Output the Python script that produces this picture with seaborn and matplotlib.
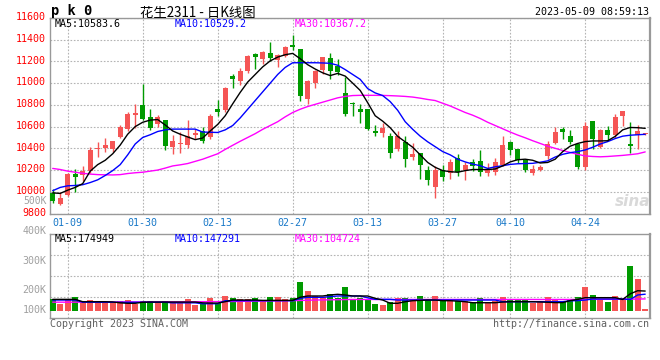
import numpy as np
import pandas as pd
import matplotlib
matplotlib.use("Agg")
import matplotlib.pyplot as plt
import matplotlib.transforms as mtransforms
import seaborn as sns

# ---------------- data ----------------
tick_labels = ["01-09", "01-30", "02-13", "02-27", "03-13", "03-27", "04-10", "04-24"]
tick_index = [2, 12, 22, 32, 42, 52, 61, 71]

opens = [9988, 9888, 9966, 10167, 10152, 10189, 10393, 10406, 10397, 10505,
         10577, 10710, 10800, 10691, 10620, 10660, 10416, 10437, 10428, 10527,
         10555, 10508, 10763, 10753, 11070, 11020, 11110, 11268, 11218, 11277,
         11215, 11252, 11351, 11311, 10856, 11005, 11119, 11228, 11156, 10911,
         10812, 10763, 10763, 10561, 10539, 10514, 10391, 10462, 10323, 10353,
         10205, 10044, 10205, 10174, 10307, 10205, 10272, 10279, 10174, 10180,
         10242, 10459, 10391, 10290, 10174, 10198, 10328, 10453, 10577, 10514,
         10437, 10230, 10648, 10415, 10567, 10521, 10700, 10437, 10524, 10533]
highs = [10025, 9994, 10174, 10214, 10233, 10412, 10462, 10493, 10470, 10617,
         10732, 10809, 10995, 10763, 10707, 10660, 10521, 10546, 10660, 10577,
         10592, 10716, 10849, 10964, 11085, 11141, 11258, 11281, 11296, 11376,
         11265, 11339, 11439, 11311, 11026, 11119, 11243, 11281, 11218, 11057,
         10825, 10809, 10763, 10614, 10632, 10537, 10555, 10514, 10453, 10360,
         10235, 10235, 10251, 10298, 10344, 10272, 10298, 10381, 10267, 10313,
         10509, 10468, 10397, 10298, 10251, 10251, 10468, 10592, 10598, 10570,
         10437, 10639, 10654, 10577, 10607, 10716, 10747, 10639, 10614, 10545]
lows = [9895, 9879, 9963, 9994, 10096, 10174, 10319, 10365, 10365, 10493,
        10561, 10583, 10660, 10567, 10598, 10384, 10351, 10360, 10406, 10484,
        10453, 10484, 10695, 10732, 10958, 10979, 11097, 11128, 11172, 11206,
        11153, 11240, 11305, 10840, 10809, 10955, 11088, 11042, 11072, 10700,
        10695, 10632, 10567, 10514, 10505, 10307, 10375, 10230, 10291, 10121,
        10065, 9947, 10096, 10121, 10149, 10105, 10189, 10149, 10149, 10158,
        10235, 10335, 10267, 10180, 10152, 10189, 10298, 10437, 10484, 10437,
        10214, 10198, 10397, 10406, 10477, 10499, 10607, 10360, 10397, 10525]
closes = [9919, 9947, 10167, 10136, 10195, 10381, 10406, 10428, 10468, 10592,
          10716, 10725, 10670, 10589, 10691, 10421, 10465, 10453, 10512, 10540,
          10468, 10700, 10738, 10955, 11035, 11110, 11249, 11240, 11290, 11228,
          11258, 11330, 11336, 10886, 11017, 11110, 11240, 11110, 11103, 10716,
          10805, 10738, 10577, 10542, 10589, 10353, 10514, 10298, 10344, 10245,
          10105, 10205, 10133, 10272, 10183, 10247, 10235, 10180, 10211, 10272,
          10428, 10381, 10288, 10198, 10214, 10230, 10437, 10552, 10552, 10462,
          10230, 10607, 10484, 10567, 10521, 10691, 10747, 10425, 10555, 10542]

ma5 = [9990, 9985, 10015, 10040, 10075, 10190, 10250, 10290, 10350, 10430,
       10530, 10600, 10640, 10660, 10665, 10615, 10560, 10530, 10505, 10480,
       10495, 10560, 10620, 10700, 10810, 10915, 11010, 11080, 11150, 11205,
       11240, 11262, 11274, 11225, 11170, 11130, 11095, 11070, 11090, 11065,
       11000, 10933, 10820, 10700, 10650, 10590, 10510, 10460, 10410, 10340,
       10270, 10225, 10195, 10185, 10180, 10195, 10205, 10205, 10205, 10210,
       10238, 10275, 10295, 10300, 10290, 10265, 10270, 10300, 10370, 10420,
       10445, 10462, 10468, 10468, 10470, 10510, 10570, 10592, 10590, 10584]
ma10 = [10010, 10040, 10055, 10058, 10065, 10085, 10110, 10150, 10195, 10250,
        10340, 10440, 10500, 10525, 10555, 10570, 10577, 10577, 10577, 10577,
        10550, 10548, 10546, 10570, 10610, 10680, 10760, 10840, 10920, 11000,
        11080, 11145, 11188, 11188, 11188, 11188, 11186, 11183, 11165, 11125,
        11080, 11035, 10950, 10910, 10886, 10830, 10750, 10645, 10575, 10512,
        10460, 10415, 10370, 10340, 10300, 10275, 10255, 10240, 10215, 10230,
        10240, 10252, 10258, 10260, 10262, 10272, 10285, 10320, 10345, 10360,
        10370, 10385, 10410, 10440, 10462, 10490, 10512, 10521, 10525, 10529]
ma30 = [10215, 10205, 10190, 10180, 10170, 10163, 10158, 10156, 10155, 10158,
        10168, 10175, 10180, 10190, 10200, 10218, 10238, 10248, 10260, 10280,
        10300, 10325, 10350, 10390, 10428, 10465, 10500, 10535, 10575, 10610,
        10645, 10690, 10730, 10760, 10785, 10805, 10825, 10845, 10865, 10878,
        10886, 10888, 10888, 10888, 10887, 10885, 10882, 10878, 10872, 10862,
        10850, 10840, 10815, 10790, 10760, 10730, 10705, 10675, 10640, 10610,
        10580, 10550, 10522, 10497, 10470, 10445, 10420, 10400, 10380, 10362,
        10345, 10330, 10325, 10322, 10325, 10330, 10335, 10342, 10350, 10367]

# volume in thousands
volume_k = [101, 60, 104, 122, 75, 95, 86, 75, 68, 86,
            95, 57, 83, 83, 71, 86, 71, 71, 104, 51,
            57, 113, 66, 131, 113, 104, 104, 113, 89, 122,
            122, 101, 110, 255, 175, 134, 119, 148, 116, 211,
            101, 116, 101, 60, 51, 80, 116, 116, 101, 134,
            104, 134, 104, 104, 89, 89, 71, 116, 71, 86,
            122, 104, 104, 95, 66, 83, 122, 98, 80, 98,
            122, 211, 142, 95, 80, 134, 110, 398, 282, 15]
vma5 = [101, 101, 101, 101, 80, 80, 80, 80, 78, 70,
        66, 66, 75, 77, 77, 77, 77, 77, 77, 77,
        70, 68, 68, 80, 95, 95, 95, 95, 92, 92,
        92, 92, 92, 120, 131, 131, 131, 140, 146, 140,
        131, 131, 131, 110, 95, 66, 66, 80, 89, 92,
        95, 95, 89, 89, 85, 80, 71, 71, 71, 71,
        77, 80, 80, 80, 80, 78, 75, 72, 72, 90,
        100, 116, 116, 116, 116, 116, 100, 150, 178, 175]
vma10 = [95, 95, 95, 95, 75, 75, 75, 75, 75, 75,
         75, 75, 75, 75, 75, 75, 70, 70, 70, 70,
         62, 62, 62, 89, 89, 89, 89, 89, 89, 89,
         89, 89, 89, 110, 119, 119, 119, 125, 131, 131,
         131, 131, 115, 101, 101, 101, 95, 95, 95, 95,
         95, 95, 95, 95, 95, 95, 95, 95, 95, 95,
         80, 80, 80, 80, 80, 80, 80, 80, 80, 88,
         90, 95, 104, 104, 104, 104, 104, 100, 140, 147]
vma30 = [76, 76, 76, 76, 76, 77, 77, 77, 77, 77,
         78, 78, 78, 78, 78, 79, 79, 79, 80, 80,
         80, 81, 81, 82, 82, 83, 84, 85, 86, 87,
         88, 89, 90, 91, 93, 95, 96, 97, 98, 99,
         100, 100, 100, 100, 100, 100, 100, 100, 100, 100,
         100, 100, 100, 100, 100, 100, 100, 100, 100, 100,
         100, 100, 100, 100, 100, 100, 100, 100, 100, 100,
         100, 101, 102, 102, 102, 102, 102, 103, 104, 105]

price_ticks = [9800, 10000, 10200, 10400, 10600, 10800, 11000, 11200, 11400, 11600]
vol_labels = ["400K", "300K", "200K", "100K"]

# ---------------- style ----------------
sns.set_style("white")
plt.rcParams['font.family'] = ['DejaVu Sans Mono', 'Noto Sans CJK SC']
RED = "#F55555"
GREEN = "#009A00"
GRID = "#B4B4B4"
SPINE = "#999999"
MONO = 7.2

W, H = 660, 360
fig = plt.figure(figsize=(W / 100, H / 100), dpi=100)
fig.patch.set_facecolor("white")


def rect(l, t, r, b):
    return [l / W, 1 - b / H, (r - l) / W, (b - t) / H]


def ftext(px, py, s, **kw):
    kw.setdefault("fontsize", MONO)
    kw.setdefault("va", "center")
    fig.text(px / W, 1 - py / H, s, **kw)


ax = fig.add_axes(rect(50, 18, 650, 213.5))
axv = fig.add_axes(rect(50, 234, 650, 318))

df = pd.DataFrame({"i": np.arange(len(opens)), "open": opens, "high": highs,
                   "low": lows, "close": closes, "ma5": ma5, "ma10": ma10,
                   "ma30": ma30, "vol": volume_k, "vma5": vma5,
                   "vma10": vma10, "vma30": vma30})
up = df["close"] >= df["open"]
colors = np.where(up, RED, GREEN)

# ---------------- candles ----------------
ax.vlines(df["i"], df["low"], df["high"], colors=colors, lw=1.0, zorder=3)
body_bottom = np.minimum(df["open"], df["close"])
body_h = np.maximum((df["close"] - df["open"]).abs(), 9)
ax.bar(df["i"], body_h, bottom=body_bottom, width=0.72, color=colors,
       linewidth=0, zorder=4)

sns.lineplot(data=df, x="i", y="ma30", ax=ax, color="#FF00FF", lw=1.0, zorder=5)
sns.lineplot(data=df, x="i", y="ma10", ax=ax, color="#0000FF", lw=1.0, zorder=6)
sns.lineplot(data=df, x="i", y="ma5", ax=ax, color="black", lw=1.0, zorder=7)

xlim = (-0.36, len(opens) - 1 + 0.64)
ax.set_xlim(*xlim)
ax.set_ylim(9800, 11600)
ax.set_yticks(price_ticks)
ax.set_yticklabels([str(t) for t in price_ticks], color="#FF0000",
                   fontsize=MONO)
ax.set_xticks(tick_index)
ax.set_xticklabels(tick_labels, color="#1878C8", fontsize=MONO)
ax.tick_params(axis="both", length=0)
ax.tick_params(axis="y", pad=2.9)
ax.tick_params(axis="x", pad=3.0)
shift_up = mtransforms.ScaledTranslation(0, 1.8 / 100, fig.dpi_scale_trans)
for lab in ax.get_yticklabels():
    lab.set_transform(lab.get_transform() + shift_up)
ax.set_xlabel("")
ax.set_ylabel("")
ax.grid(True, color=GRID, lw=0.8, linestyle=(0, (1.5, 1.5)))
ax.set_axisbelow(True)
for s in ax.spines.values():
    s.set_color(SPINE)
    s.set_linewidth(1.0)
ax.spines["right"].set_linewidth(1.6)

# ---------------- volume ----------------
axv.bar(df["i"], df["vol"], width=0.75, color=colors, linewidth=0, zorder=3)
sns.lineplot(data=df, x="i", y="vma30", ax=axv, color="#FF00FF", lw=1.0, zorder=4)
sns.lineplot(data=df, x="i", y="vma10", ax=axv, color="#0000FF", lw=1.0, zorder=5)
sns.lineplot(data=df, x="i", y="vma5", ax=axv, color="black", lw=1.0, zorder=6)
axv.set_xlim(*xlim)
vlim = (-65, 683)
axv.set_ylim(*vlim)
axv.set_yticks(np.linspace(vlim[0], vlim[1], 5)[1:-1])
axv.set_yticklabels([])
axv.set_xticks(tick_index)
axv.set_xticklabels([])
axv.tick_params(axis="both", length=0)
axv.set_xlabel("")
axv.set_ylabel("")
axv.grid(True, color=GRID, lw=0.8, linestyle=(0, (1.5, 1.5)))
axv.set_axisbelow(True)
for s in axv.spines.values():
    s.set_color(SPINE)
    s.set_linewidth(1.0)
axv.spines["right"].set_linewidth(1.6)

# ---------------- texts ----------------
ftext(51, 11.5, "p k 0", fontweight="bold", fontsize=9.8, color="black")
ftext(140, 12.5, "花生2311 - 日K线图", family=["Noto Sans CJK SC", "DejaVu Sans"],
      fontsize=9.6, color="black")
ftext(649, 11.7, "2023-05-09 08:59:13", ha="right", color="black")

ftext(55, 24, "MA5:10583.6", color="black")
ftext(175, 24, "MA10:10529.2", color="#0000FF")
ftext(295, 24, "MA30:10367.2", color="#FF00FF")

ftext(55, 238.5, "MA5:174949", color="black")
ftext(175, 238.5, "MA10:147291", color="#0000FF")
ftext(295, 238.5, "MA30:104724", color="#FF00FF")

ftext(46.5, 201.5, "500K", ha="right", color="#A0A0A0", fontsize=7.0)
for lab, py in zip(vol_labels, [231, 261, 290, 310]):
    ftext(46.5, py, lab, ha="right", color="#A0A0A0")

ftext(50, 324, "Copyright 2023 SINA.COM", color="#606060")
ftext(649, 324, "http://finance.sina.com.cn", ha="right", color="#606060")

ftext(633, 202, "sina", ha="center", fontsize=11, fontweight="bold",
      style="italic", color="#D9D9D9", family=["DejaVu Sans"])

fig.savefig("out.png", dpi=100, facecolor="white")
